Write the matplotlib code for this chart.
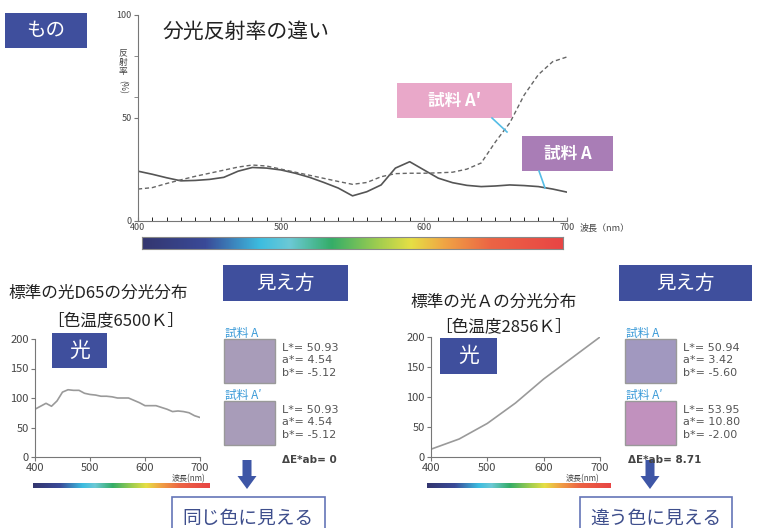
import matplotlib
matplotlib.use('Agg')
import matplotlib.pyplot as plt
import numpy as np
from matplotlib.patches import Rectangle, FancyArrow
from matplotlib.colors import LinearSegmentedColormap

plt.rcParams['font.family'] = ['Noto Sans CJK JP', 'DejaVu Sans']

W, H = 759, 528

# reflectance of the two samples (%), 10 nm steps
wl = list(range(400, 701, 10))
refl_a = [24, 22.5, 20.8, 19.3, 19.5, 20, 21, 24, 25.8, 25.5, 24.6, 23, 21, 18.5,
          15.8, 12, 14, 17.3, 25.5, 28.6, 24.6, 20.6, 18.4, 17.1, 16.5, 16.8,
          17.3, 17, 16.5, 15.3, 13.8]
refl_a2 = [15.3, 16, 18, 19.8, 21.5, 23, 24.5, 26, 27, 26.5, 25, 23.5, 22, 20.5,
           19, 17.6, 18.5, 21.3, 22.8, 23, 23, 23.2, 23.5, 25, 28, 38.3, 47.5,
           61, 71, 77.3, 79.6]

# relative spectral power of the two illuminants
d65 = [81, 86, 91, 86, 95, 110, 114, 113, 113, 108, 106, 105, 103, 103, 102, 100,
       100, 100, 96, 92, 87, 87, 87, 84, 81, 77, 78, 77, 75, 70, 67]
wl_a = [400, 450, 500, 550, 600, 650, 700]
illum_a = [13, 30, 56, 90, 130, 165, 200]

# colorimetric values shown next to the swatches
lab_d65 = {'A': (50.93, 4.54, -5.12), "A'": (50.93, 4.54, -5.12)}
lab_illa = {'A': (50.94, 3.42, -5.60), "A'": (53.95, 10.80, -2.00)}
de_d65 = 0
de_illa = 8.71
swatch_d65 = ['#a89cb9', '#a89cb9']
swatch_illa = ['#a198bf', '#c191be']

NAVY = '#3f4f9d'
SKY = '#3a9ad8'

spectrum = LinearSegmentedColormap.from_list('spec', [
    (0.0, '#33366f'), (0.15, '#3a4a98'), (0.28, '#3dbde0'), (0.35, '#6cc9d6'),
    (0.45, '#34ad68'), (0.56, '#9fcd4f'), (0.64, '#e6df45'), (0.72, '#f0a444'),
    (0.83, '#ec6444'), (1.0, '#e84545')])

fig = plt.figure(figsize=(W / 100, H / 100), dpi=100)


def px_axes(x0, y0, x1, y1):
    return fig.add_axes([x0 / W, 1 - y1 / H, (x1 - x0) / W, (y1 - y0) / H])


def style(ax, size):
    for s in ['top', 'right']:
        ax.spines[s].set_visible(False)
    for s in ['left', 'bottom']:
        ax.spines[s].set_color('#777777')
    ax.patch.set_visible(False)
    ax.tick_params(colors='#777777', labelcolor='#444444', labelsize=size,
                   length=3, width=0.8, pad=1.5)


def colorbar(x0, y0, x1, y1, border):
    cax = px_axes(x0, y0, x1, y1)
    cax.imshow(np.linspace(0, 1, 256)[None, :], aspect='auto', cmap=spectrum)
    cax.set_xticks([])
    cax.set_yticks([])
    for s in cax.spines.values():
        s.set_visible(border)
        s.set_color('#888888')


# reflectance chart
ax = px_axes(138, 15, 567, 220.5)
ax.plot(wl, refl_a, color='#555555', lw=1.2)
ax.plot(wl, refl_a2, color='#666666', lw=1.0, dashes=(3, 2))
ax.set_xlim(400, 700)
ax.set_ylim(0, 100)
style(ax, 6.5)
ax.set_xticks([400, 500, 600, 700])
ax.set_xticks(range(400, 701, 10), minor=True)
ax.set_yticks([0, 50, 100])
ax.set_yticks([60, 80], minor=True)
ax.tick_params(axis='x', which='both', direction='in', length=3)
ax.tick_params(axis='y', which='minor', length=3, color='#777777')
colorbar(142, 237, 563, 249, True)

# illuminant charts
for (x0, x1, y0, yvals, xvals) in [(35, 200, 339, d65, wl), (431, 600, 337, illum_a, wl_a)]:
    b = px_axes(x0, y0, x1, 457)
    b.plot(xvals, yvals, color='#9a9a9a', lw=1.2)
    b.set_xlim(400, 700)
    b.set_ylim(0, 200)
    style(b, 8)
    b.set_xticks([400, 500, 600, 700])
    b.set_yticks([0, 50, 100, 150, 200])
colorbar(33, 483, 210, 488, False)
colorbar(427, 483, 610, 488, False)

# annotation layer
ov = fig.add_axes([0, 0, 1, 1])
ov.set_xlim(0, W)
ov.set_ylim(H, 0)
ov.axis('off')


def box(x0, y0, x1, y1, fc, text, size, tc='white', weight='normal', ec='none'):
    ov.add_patch(Rectangle((x0, y0), x1 - x0, y1 - y0, fc=fc, ec=ec, lw=1.2))
    ov.text((x0 + x1) / 2, (y0 + y1) / 2, text, ha='center', va='center',
            color=tc, fontsize=size, fontweight=weight)


box(5, 13, 87, 48, NAVY, 'もの', 14)
ov.text(163, 32, '分光反射率の違い', fontsize=15, va='center', color='#222222')
ov.text(123, 62, '反\n射\n率', fontsize=6.3, ha='center', va='center',
        linespacing=1.05, color='#444444')
ov.text(123, 87, '(%)', fontsize=6.3, ha='center', va='center', rotation=-90,
        color='#444444')
ov.text(580, 228, '波長（nm）', fontsize=6.5, va='center', color='#444444')

# sample tags with leader lines
ov.plot([492, 507], [118, 132], color='#55bde6', lw=1.2)
ov.plot([539, 545], [171, 188], color='#55bde6', lw=1.2)
box(397, 83, 512, 118, '#e9a8c9', "試料 A′", 12, weight='bold')
box(522, 136, 613, 171, '#a97db6', '試料 A', 12, weight='bold')

panels = [
    dict(title='標準の光D65の分光分布', tx=8, ty=293, temp='［色温度6500Ｋ］', kx=116, ky=321,
         light=(52, 333, 107, 368), look=(223, 265, 348, 301), sx=224, lx=282,
         lab=lab_d65, sw=swatch_d65, de=de_d65, ax_=247,
         result='同じ色に見える', res=(172, 497, 325), wx=189, de_x=282),
    dict(title='標準の光Ａの分光分布', tx=410, ty=302, temp='［色温度2856Ｋ］', kx=504, ky=327,
         light=(440, 338, 497, 374), look=(619, 265, 752, 301), sx=625, lx=683,
         lab=lab_illa, sw=swatch_illa, de=de_illa, ax_=650,
         result='違う色に見える', res=(580, 497, 732), wx=583, de_x=628),
]

for p in panels:
    ov.text(p['tx'], p['ty'], p['title'], fontsize=12, va='center', color='#222222')
    ov.text(p['kx'], p['ky'], p['temp'], fontsize=12, ha='center', va='center',
            color='#222222')
    box(*p['light'], NAVY, '光', 15)
    box(*p['look'], NAVY, '見え方', 14)
    ov.text(p['wx'], 478.5, '波長(nm)', fontsize=5.8, ha='center', va='center',
            color='#444444')
    for i, key in enumerate(['A', "A'"]):
        top = 339 + i * 62
        ov.text(p['sx'] + 1, top - 6, '試料 ' + key.replace("'", '′'), fontsize=8.5,
                va='center', color=SKY)
        ov.add_patch(Rectangle((p['sx'], top), 51, 44, fc=p['sw'][i], ec='#999999', lw=1))
        L, a, bb = p['lab'][key]
        for j, (nm, v) in enumerate([('L*', L), ('a*', a), ('b*', bb)]):
            ov.text(p['lx'], top + 9 + j * 12.3, f'{nm}= {v:.2f}', fontsize=8,
                    va='center', color='#555555', family='DejaVu Sans')
    de_txt = f"ΔE*ab= {p['de']:g}"
    ov.text(p['de_x'], 460, de_txt, fontsize=7.5, va='center', fontweight='bold',
            color='#444444', family='DejaVu Sans')
    ov.add_patch(FancyArrow(p['ax_'], 460, 0, 29, width=9, head_width=19,
                            head_length=13, length_includes_head=True,
                            fc='#3e56a6', ec='none'))
    rx0, ry0, rx1 = p['res']
    box(rx0, ry0, rx1, 540, 'white', p['result'], 13.5, tc='#3e4e8c', ec='#6575b8')

fig.savefig('out.png', dpi=100)
